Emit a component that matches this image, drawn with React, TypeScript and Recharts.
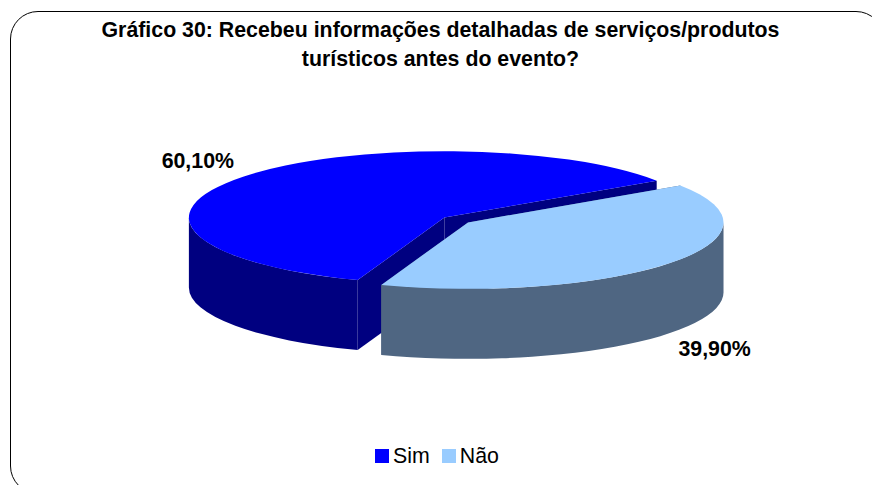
import { PieChart, Pie, Legend } from "recharts";

const categories = ["Sim", "Não"];
const shares = [60.1, 39.9];
const topColors = ["#0000FF", "#99CCFF"];
const wallColors = ["#000080", "#4F6682"];

const FONT = '"Liberation Sans", Arial, sans-serif';
const SQUASH = 0.26;
const DEPTH = 70;
const EXPLODE = 15;
const RAD = Math.PI / 180;

const data = categories.map((name, i) => ({
  name,
  value: shares[i],
  fill: topColors[i],
  wall: wallColors[i],
}));

// Recharts only gives a flat sector, so tilt it into a 3D wedge here
function Wedge3D(props: any) {
  const { cx, cy, outerRadius, startAngle, endAngle, midAngle, fill, payload } = props;
  const rx = outerRadius;
  const ry = outerRadius * SQUASH;
  const ox = cx + EXPLODE * Math.cos(midAngle * RAD);
  const oy = cy - EXPLODE * SQUASH * Math.sin(midAngle * RAD);
  const pt = (a: number) => [ox + rx * Math.cos(a * RAD), oy - ry * Math.sin(a * RAD)];
  const [sx, sy] = pt(startAngle);
  const [ex, ey] = pt(endAngle);
  const large = endAngle - startAngle > 180 ? 1 : 0;
  const wall = payload?.wall ?? props.wall;

  const face = (x: number, y: number) =>
    `M${ox},${oy} L${x},${y} L${x},${y + DEPTH} L${ox},${oy + DEPTH} Z`;

  // only the front half of the rim can be seen
  const from = Math.max(startAngle, 180);
  const to = Math.min(endAngle, 360);
  let rim = "";
  if (to > from) {
    const [ax, ay] = pt(from);
    const [bx, by] = pt(to);
    rim =
      `M${ax},${ay} A${rx},${ry} 0 0 0 ${bx},${by} L${bx},${by + DEPTH} ` +
      `A${rx},${ry} 0 0 1 ${ax},${ay + DEPTH} Z`;
  }

  return (
    <g>
      <path d={face(sx, sy)} fill={wall} />
      <path d={face(ex, ey)} fill={wall} />
      {rim && <path d={rim} fill={wall} />}
      <path d={`M${ox},${oy} L${sx},${sy} A${rx},${ry} 0 ${large} 0 ${ex},${ey} Z`} fill={fill} />
    </g>
  );
}

function renderLabel(props: any) {
  const { cx, cy, midAngle, value } = props;
  const sin = Math.sin(midAngle * RAD);
  const x = cx + 328 * Math.cos(midAngle * RAD);
  const y = cy - 95 * sin + (sin < 0 ? DEPTH : 0);
  return (
    <text
      x={x}
      y={y}
      textAnchor="middle"
      dominantBaseline="central"
      fontFamily={FONT}
      fontWeight="bold"
      fontSize={21.33}
      fill="#000"
    >
      {value.toFixed(2).replace(".", ",")}%
    </text>
  );
}

export default function App() {
  return (
    <div
      style={{
        position: "absolute",
        left: 0,
        top: 0,
        width: 872,
        height: 485,
        overflow: "hidden",
        background: "#fff",
      }}
    >
      <div
        style={{
          position: "absolute",
          left: 10,
          top: 11,
          width: 872,
          height: 481,
          border: "1px solid #000",
          borderRadius: 28,
        }}
      />
      <div
        style={{
          position: "absolute",
          left: 0,
          top: 16,
          width: 881,
          textAlign: "center",
          fontFamily: FONT,
          fontWeight: "bold",
          fontSize: 21.33,
          lineHeight: "29px",
          color: "#000",
          whiteSpace: "nowrap",
        }}
      >
        Gráfico 30: Recebeu informações detalhadas de serviços/produtos
        <br />
        turísticos antes do evento?
      </div>
      <PieChart
        width={872}
        height={485}
        margin={{ top: 0, right: 0, bottom: 0, left: 0 }}
        style={{ position: "absolute", left: 0, top: 0 }}
      >
        <Pie
          data={data}
          dataKey="value"
          nameKey="name"
          cx={456.2}
          cy={220}
          outerRadius={255.5}
          startAngle={33.8}
          endAngle={393.8}
          stroke="none"
          shape={Wedge3D}
          label={renderLabel}
          labelLine={false}
          isAnimationActive={false}
        />
        <Legend
          verticalAlign="bottom"
          iconType="square"
          iconSize={14}
          itemSorter={null}
          formatter={(v: string) => (
            <span
              style={{
                color: "#000",
                fontFamily: FONT,
                fontSize: 21.33,
                position: "relative",
                top: 3,
                marginRight: 2,
              }}
            >
              {v}
            </span>
          )}
          wrapperStyle={{ left: 0, width: 886, bottom: 19 }}
        />
      </PieChart>
    </div>
  );
}
